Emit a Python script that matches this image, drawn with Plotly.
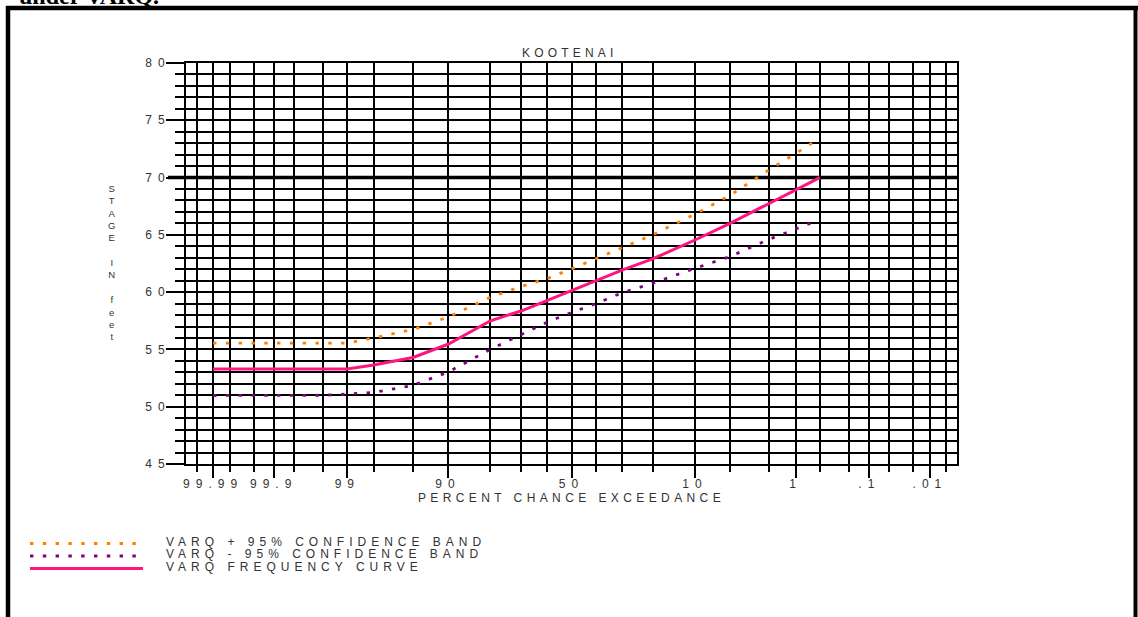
import plotly.graph_objects as go
from statistics import NormalDist

# ---------------- data ----------------
exceedance_pct = [99.99, 99.95, 99.9, 99.8, 99.5, 99, 98, 95, 90, 80, 70, 60,
                  50, 40, 30, 20, 10, 5, 2, 1, 0.5]
freq_curve = [53.3, 53.3, 53.3, 53.3, 53.3, 53.3, 53.65, 54.3, 55.45, 57.5, 58.35,
              59.27, 60.17, 61.05, 61.92, 62.9, 64.55, 66.0, 67.75, 68.9, 70.0]
upper_band = [55.55, 55.55, 55.55, 55.55, 55.55, 55.55, 56.0, 56.74, 57.82, 59.56,
              60.48, 61.18, 62.03, 62.9, 63.87, 65.0, 66.81, 68.45, 70.7, 72.1, 73.45]
lower_band = [50.98, 50.98, 50.98, 50.98, 51.0, 51.1, 51.25, 51.86, 53.02, 55.0,
              56.31, 57.38, 58.23, 59.0, 59.94, 60.78, 62.08, 63.11, 64.62, 65.48, 66.33]

major_pct = [99.99, 99.9, 99, 90, 50, 10, 1, 0.1, 0.01]
major_labels = ["99.99", "99.9", "99", "90", "50", "10", "1", ".1", ".01"]
minor_pct = [99.995, 99.98, 99.95, 99.8, 99.5, 98, 95, 80, 70, 60, 40, 30, 20,
             5, 2, 0.5, 0.2, 0.05, 0.02, 0.005]
stage_ticks = [45, 50, 55, 60, 65, 70, 75, 80]
reference_stage = 70

title_text = "KOOTENAI"
x_title = "PERCENT CHANCE EXCEEDANCE"
y_title_letters = ["S", "T", "A", "G", "E", "", "I", "N", "", "f", "e", "e", "t"]
legend_names = ["VARQ + 95% CONFIDENCE BAND", "VARQ - 95% CONFIDENCE BAND",
                "VARQ FREQUENCY CURVE"]
caption_text = "under VARQ."

# ---------------- helpers ----------------
W, H = 1138, 617
L, R, T, B = 186, 957, 63, 464
nd = NormalDist()


def zpos(p):
    return nd.inv_cdf(1 - p / 100.0)


def px(x):
    return (x - L) / (R - L)


def py(y):
    return (B - y) / (B - T)


def sp(text, ls):
    return '<span style="letter-spacing:%spx">%s</span>' % (ls, text)


FONT = "Liberation Sans, Arial, sans-serif"
TXT = "#333333"
ORANGE = "#FF8000"
PURPLE = "#800080"
PINK = "#FF1480"
DOT = "3.4px,9.4px"

xs = [zpos(p) for p in exceedance_pct]

fig = go.Figure()
fig.add_trace(go.Scatter(x=xs, y=upper_band, mode="lines", name=legend_names[0],
                         line=dict(color=ORANGE, width=2.8, dash=DOT)))
fig.add_trace(go.Scatter(x=xs, y=lower_band, mode="lines", name=legend_names[1],
                         line=dict(color=PURPLE, width=2.8, dash=DOT)))
fig.add_trace(go.Scatter(x=xs, y=freq_curve, mode="lines", name=legend_names[2],
                         line=dict(color=PINK, width=3)))

axis_common = dict(showline=True, linecolor="black", linewidth=2, mirror=True,
                   zeroline=False, showgrid=True, gridcolor="black", gridwidth=2,
                   ticks="outside", tickcolor="black", tickwidth=2,
                   tickfont=dict(family=FONT, size=12, color=TXT))

fig.update_layout(
    width=W, height=H,
    margin=dict(l=L, r=W - R, t=T, b=H - B, autoexpand=False),
    paper_bgcolor="white", plot_bgcolor="white", showlegend=False,
    xaxis=dict(range=[-4, 4], tickmode="array",
               tickvals=[zpos(p) for p in major_pct],
               ticktext=[sp(t, 6) for t in major_labels], ticklen=12,
               ticklabelstandoff=-4,
               minor=dict(tickmode="array", tickvals=[zpos(p) for p in minor_pct],
                          ticks="outside", ticklen=6, tickwidth=2, tickcolor="black",
                          showgrid=True, gridcolor="black", gridwidth=2),
               title=dict(text=sp(x_title, 4.4), standoff=0,
                          font=dict(family=FONT, size=12, color=TXT)),
               **axis_common),
    yaxis=dict(range=[45, 80], tickmode="array", tickvals=stage_ticks,
               ticktext=[sp(str(v), 6) for v in stage_ticks], ticklen=18,
               ticklabelstandoff=-7,
               minor=dict(dtick=1, tick0=45, ticks="outside", ticklen=9, tickwidth=2,
                          tickcolor="black", showgrid=True, gridcolor="black",
                          gridwidth=2),
               **axis_common),
)

shapes = []
# heavy reference line at 70 ft
shapes.append(dict(type="line", xref="paper", yref="y", x0=px(168), x1=px(959),
                   y0=reference_stage, y1=reference_stage, layer="between",
                   line=dict(color="black", width=3.5)))
# page frame
shapes.append(dict(type="line", xref="paper", yref="paper", x0=px(6), x1=px(1138),
                   y0=py(8), y1=py(8), line=dict(color="black", width=4.5)))
shapes.append(dict(type="line", xref="paper", yref="paper", x0=px(8), x1=px(8),
                   y0=py(6), y1=py(617), line=dict(color="black", width=4.5)))
shapes.append(dict(type="line", xref="paper", yref="paper", x0=px(1135.5), x1=px(1135.5),
                   y0=py(6), y1=py(617), line=dict(color="black", width=4)))
# legend samples
leg_y = [543.5, 556, 568.5]
leg_style = [dict(color=ORANGE, width=2.8, dash=DOT), dict(color=PURPLE, width=2.8, dash=DOT),
             dict(color=PINK, width=3)]
leg_end = [137, 137, 143]
for yy, st, xe in zip(leg_y, leg_style, leg_end):
    shapes.append(dict(type="line", xref="paper", yref="paper", x0=px(30), x1=px(xe),
                       y0=py(yy), y1=py(yy), line=st))
fig.update_layout(shapes=shapes)

ann = []
ann.append(dict(text=sp(title_text, 4.2), xref="paper", yref="paper", x=px(569.5),
                y=py(53.5), xanchor="center", yanchor="middle", showarrow=False,
                font=dict(family=FONT, size=12, color=TXT)))
ann.append(dict(text="<br>".join(y_title_letters), xref="paper", yref="paper",
                x=px(112), y=py(262.5), xanchor="center", yanchor="middle",
                showarrow=False, font=dict(family=FONT, size=9.5, color=TXT)))
for yy, name in zip([541.7, 554.3, 566.7], legend_names):
    ann.append(dict(text=sp(name, 5), xref="paper", yref="paper", x=px(164),
                    y=py(yy), xanchor="left", yanchor="middle", showarrow=False,
                    font=dict(family=FONT, size=12, color=TXT)))
ann.append(dict(text="<b>" + caption_text + "</b>", xref="paper", yref="paper",
                x=px(17), y=py(11), xanchor="left", yanchor="bottom", showarrow=False,
                font=dict(family="Liberation Serif, Times New Roman, serif", size=24,
                          color="black")))
fig.update_layout(annotations=ann)

fig.write_html("out.html", config={"displayModeBar": False},
               post_script="document.body.style.margin='0';")
